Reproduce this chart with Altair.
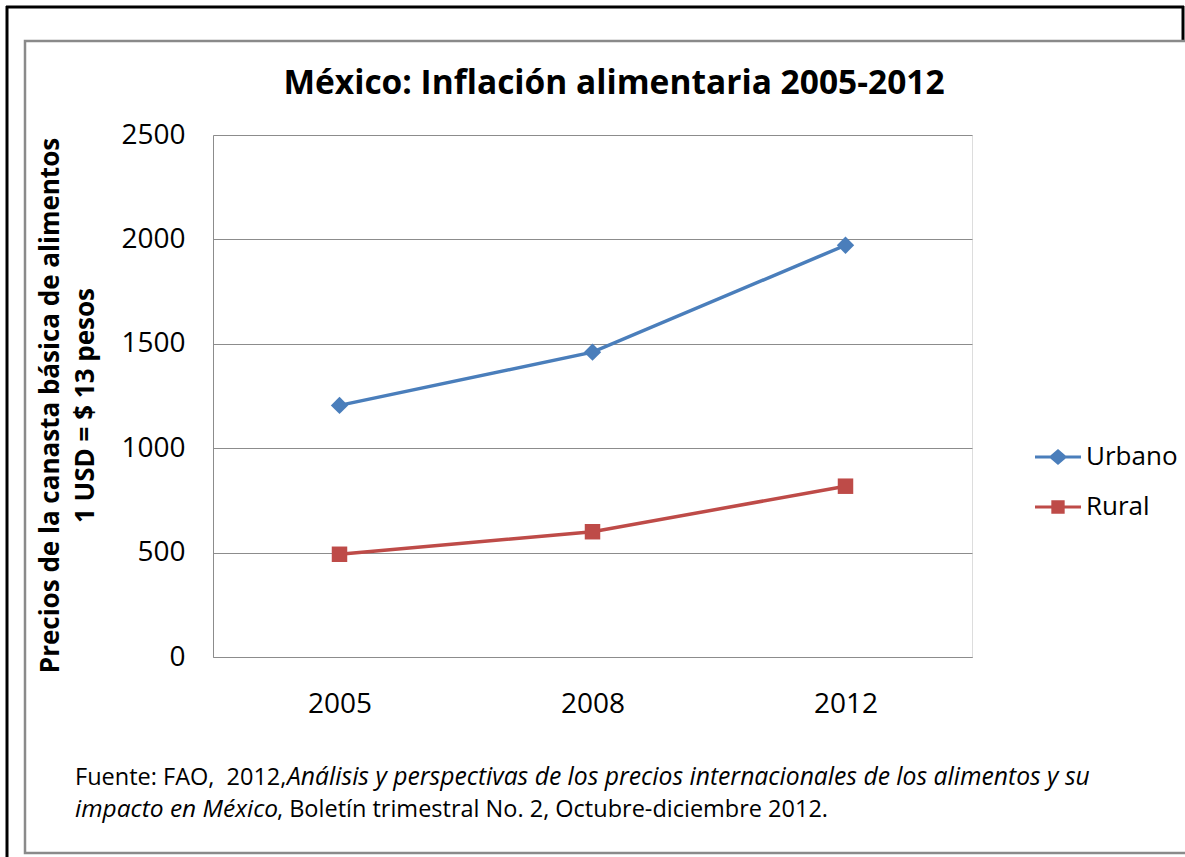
import altair as alt
import pandas as pd

# ---- data ----
years = ["2005", "2008", "2012"]
urbano = [1205, 1460, 1972]
rural = [492, 600, 818]
series = ["Urbano", "Rural"]
colors = ["#4A7EBB", "#BE4B48"]
y_ticks = [0, 500, 1000, 1500, 2000, 2500]

title_text = "México: Inflación alimentaria 2005-2012"
y_title = ["Precios de la canasta básica de alimentos", "1 USD = $ 13 pesos"]
source_line1 = ["Fuente: FAO,\u00a0 2012,",
                "Análisis y perspectivas de los precios internacionales de los alimentos y su"]
source_line2 = ["impacto en México",
                ", Boletín trimestral No. 2, Octubre-diciembre 2012."]

FONT = "Open Sans"
GRAY = "#8C8C8C"

rows = []
for i, y in enumerate(years):
    rows.append({"year": y, "series": series[0], "value": urbano[i]})
    rows.append({"year": y, "series": series[1], "value": rural[i]})
df = pd.DataFrame(rows)

W, H = 759, 522
PAD = {"left": 213, "top": 135, "right": 213, "bottom": 200}

x_enc = alt.X("year:N", sort=years, title=None,
              axis=alt.Axis(labelAngle=0, labelFont=FONT, labelFontSize=28,
                            labelColor="#000000", labelPadding=33, ticks=False,
                            domainColor=GRAY, domainWidth=1, grid=False))
y_enc = alt.Y("value:Q", scale=alt.Scale(domain=[0, 2500], nice=False),
              title=y_title,
              axis=alt.Axis(values=y_ticks, format="d", labelFont=FONT,
                            labelFontSize=28, labelColor="#000000",
                            labelPadding=28, ticks=False,
                            domainColor=GRAY, domainWidth=1, gridColor=GRAY,
                            gridWidth=1, titleFont=FONT, titleFontSize=26,
                            titleFontWeight="bold", titleColor="#000000",
                            titlePadding=22, titleLineHeight=35, titleY=270))
color_scale = alt.Scale(domain=series, range=colors)

one = pd.DataFrame({"k": [0]})

# frames (decoration)
def hrule(x1, x2, y, color, w):
    return alt.Chart(one).mark_rule(color=color, strokeWidth=w).encode(
        x=alt.value(x1), x2=alt.value(x2), y=alt.value(y))

def vrule(x, y1, y2, color, w):
    return alt.Chart(one).mark_rule(color=color, strokeWidth=w).encode(
        x=alt.value(x), y=alt.value(y1), y2=alt.value(y2))

frames = [
    hrule(-207, 971, -128, "#000000", 3),
    vrule(-206, -129, 730, "#000000", 3),
    vrule(970, -129, -94, "#000000", 3),
    alt.Chart(one).mark_rect(fill=None, stroke="#8A8A8A", strokeWidth=2.5).encode(
        x=alt.value(-188), x2=alt.value(990), y=alt.value(-94), y2=alt.value(718)),
]

# legend: line + marker symbols via custom shape paths
diamond_path = ("M-1,-0.07L-0.33,-0.07L0,-0.35L0.33,-0.07L1,-0.07L1,0.07L0.33,0.07"
                "L0,0.35L-0.33,0.07L-1,0.07Z")
square_path = ("M-1,-0.07L-0.29,-0.07L-0.29,-0.29L0.29,-0.29L0.29,-0.07L1,-0.07L1,0.07"
               "L0.29,0.07L0.29,0.29L-0.29,0.29L-0.29,0.07L-1,0.07Z")
leg = alt.Legend(title=None, orient="none", legendX=822, legendY=299,
                 symbolSize=2116, symbolStrokeWidth=0, labelFont=FONT,
                 labelFontSize=26, labelColor="#000000", labelOffset=5,
                 rowPadding=14, padding=0)
color_enc = alt.Color("series:N", scale=color_scale, legend=leg)

base = alt.Chart(df)
lines = base.mark_line(strokeWidth=3.5).encode(
    x=x_enc, y=y_enc, color=color_enc, detail="series:N")
pts_u = base.transform_filter(alt.datum.series == "Urbano").mark_point(
    shape="diamond", filled=True, size=300, opacity=1).encode(
    x="year:N", y="value:Q", color=color_enc)
pts_r = base.transform_filter(alt.datum.series == "Rural").mark_point(
    shape="square", filled=True, size=240, opacity=1).encode(
    x="year:N", y="value:Q", color=color_enc)
legend_layer = base.mark_point(filled=True, opacity=1, size=0).encode(
    x="year:N", y="value:Q", color=color_enc,
    shape=alt.Shape("series:N", scale=alt.Scale(domain=series,
                                                range=[diamond_path, square_path]),
                    legend=leg))

# title and source note as text
title_layer = alt.Chart(pd.DataFrame({"t": [title_text]})).mark_text(
    align="center", baseline="middle", font=FONT, fontSize=33.5,
    fontWeight="bold", color="#000000").encode(
    text="t:N", x=alt.value(401), y=alt.value(-51))

def txt(s, x, y, style, size):
    return alt.Chart(pd.DataFrame({"t": [s]})).mark_text(
        align="left", baseline="middle", font=FONT, fontSize=size,
        fontStyle=style, color="#000000").encode(
        text="t:N", x=alt.value(x), y=alt.value(y))

notes = [
    txt(source_line1[0], -138, 643, "normal", 23.5),
    txt(source_line1[1], 74, 643, "italic", 24.7),
    txt(source_line2[0], -138, 675, "italic", 24.5),
    txt(source_line2[1], 64, 675, "normal", 23.5),
]

chart = alt.layer(*frames, lines, pts_u, pts_r, legend_layer, title_layer,
                  *notes).properties(
    width=W, height=H, padding=PAD, autosize=alt.AutoSizeParams(type="none"),
).configure_view(stroke=None).configure(background="#FFFFFF")

chart.save("out.html", embed_options={"renderer": "svg", "actions": False})
